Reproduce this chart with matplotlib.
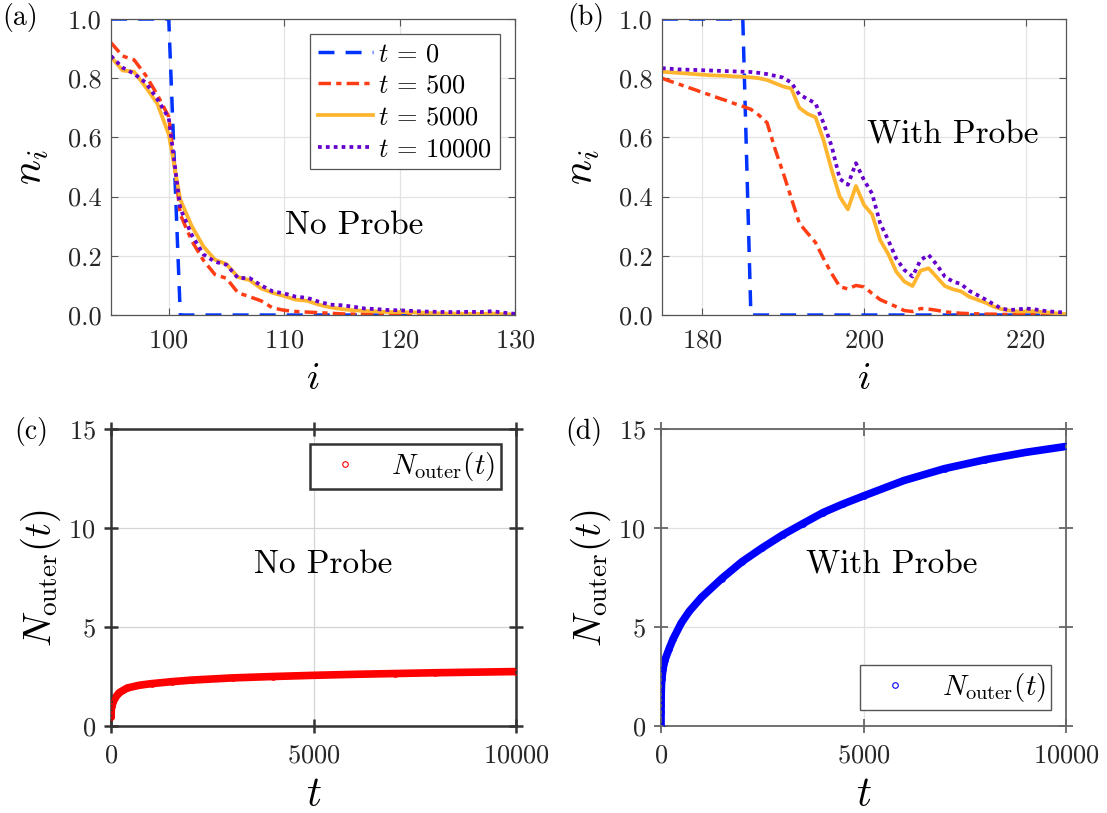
import numpy as np
import matplotlib
matplotlib.use('Agg')
import matplotlib.pyplot as plt
from matplotlib.ticker import FormatStrFormatter

plt.rcParams['font.family'] = 'serif'
plt.rcParams['font.serif'] = ['cmr10']
plt.rcParams['mathtext.fontset'] = 'cm'
plt.rcParams['axes.unicode_minus'] = False
plt.rcParams['axes.formatter.use_mathtext'] = True

# ---- occupation profiles, no probe (sites 95..130)
i_a = np.arange(95, 131)
n0_a = [1, 1, 1, 1, 1, 1, 0, 0, 0, 0, 0, 0, 0, 0, 0, 0, 0, 0,
        0, 0, 0, 0, 0, 0, 0, 0, 0, 0, 0, 0, 0, 0, 0, 0, 0, 0]
n500_a = [0.92, 0.875, 0.862, 0.81, 0.745, 0.67, 0.34, 0.25, 0.185, 0.137,
          0.124, 0.075, 0.062, 0.048, 0.024, 0.016, 0.012, 0.01, 0.008, 0.006,
          0.004, 0.003, 0.003, 0.002, 0.002, 0.002, 0.001, 0.001, 0.001, 0.001,
          0.001, 0.0, 0.0, 0.0, 0.0, 0.0]
n5000_a = [0.872, 0.826, 0.822, 0.77, 0.715, 0.61, 0.39, 0.30, 0.232, 0.187,
           0.172, 0.128, 0.118, 0.09, 0.075, 0.064, 0.052, 0.048, 0.035, 0.026,
           0.02, 0.016, 0.014, 0.012, 0.01, 0.01, 0.009, 0.008, 0.006, 0.005,
           0.005, 0.004, 0.004, 0.005, 0.003, 0.002]
n10000_a = [0.875, 0.836, 0.815, 0.785, 0.73, 0.665, 0.36, 0.27, 0.205, 0.18,
            0.17, 0.125, 0.125, 0.1, 0.08, 0.073, 0.062, 0.058, 0.045, 0.035,
            0.033, 0.028, 0.022, 0.02, 0.017, 0.016, 0.014, 0.012, 0.011, 0.01,
            0.01, 0.011, 0.01, 0.013, 0.008, 0.004]

# ---- occupation profiles, with probe (sites 175..225)
i_b = np.arange(175, 226)
n0_b = [1, 1, 1, 1, 1, 1, 1, 1, 1, 1, 1,
        0, 0, 0, 0, 0, 0, 0, 0, 0, 0, 0, 0, 0, 0, 0, 0, 0, 0, 0, 0,
        0, 0, 0, 0, 0, 0, 0, 0, 0, 0, 0, 0, 0, 0, 0, 0, 0, 0, 0, 0]
n500_b = [0.80, 0.79, 0.781, 0.771, 0.762, 0.752, 0.743, 0.733, 0.724, 0.714,
          0.705, 0.695, 0.675, 0.65, 0.56, 0.48, 0.395, 0.31, 0.277, 0.245,
          0.19, 0.14, 0.096, 0.088, 0.10, 0.095, 0.073, 0.052, 0.04, 0.028,
          0.015, 0.012, 0.022, 0.02, 0.016, 0.011, 0.008, 0.006, 0.005, 0.004,
          0.003, 0.003, 0.002, 0.002, 0.001, 0.001, 0.001, 0.001, 0.0, 0.0, 0.0]
n5000_b = [0.822, 0.82, 0.818, 0.816, 0.814, 0.812, 0.81, 0.809, 0.808, 0.806,
           0.805, 0.803, 0.80, 0.794, 0.783, 0.772, 0.765, 0.70, 0.68, 0.668,
           0.59, 0.49, 0.40, 0.357, 0.436, 0.372, 0.34, 0.253, 0.206, 0.146,
           0.113, 0.098, 0.15, 0.158, 0.128, 0.098, 0.087, 0.08, 0.062, 0.052,
           0.042, 0.029, 0.02, 0.015, 0.012, 0.012, 0.013, 0.01, 0.008, 0.005, 0.003]
n10000_b = [0.834, 0.832, 0.83, 0.829, 0.828, 0.827, 0.826, 0.825, 0.824, 0.823,
            0.822, 0.821, 0.818, 0.814, 0.808, 0.802, 0.785, 0.745, 0.73, 0.715,
            0.648, 0.57, 0.46, 0.44, 0.513, 0.456, 0.41, 0.31, 0.253, 0.19,
            0.152, 0.13, 0.186, 0.203, 0.17, 0.13, 0.113, 0.105, 0.082, 0.068,
            0.053, 0.037, 0.022, 0.017, 0.019, 0.022, 0.02, 0.015, 0.012, 0.01, 0.008]

# ---- particles in the outer region vs time
t_c = [0, 1, 2, 5, 10, 20, 50, 100, 200, 400, 700, 1000, 1500, 2000, 3000,
       4000, 5000, 6000, 7000, 8000, 9000, 10000]
N_c = [0.45, 0.55, 0.62, 0.75, 0.87, 1.0, 1.2, 1.42, 1.68, 1.92, 2.06, 2.14,
       2.24, 2.32, 2.43, 2.5, 2.56, 2.61, 2.65, 2.69, 2.72, 2.75]
t_d = [0, 1, 2, 3, 5, 10, 20, 50, 100, 200, 300, 500, 700, 1000, 1500, 2000,
       2500, 3000, 3500, 4000, 4500, 5000, 6000, 7000, 8000, 9000, 10000]
N_d = [0, 0.72, 1.05, 1.3, 1.6, 2.0, 2.35, 2.9, 3.35, 3.9, 4.4, 5.2, 5.8, 6.5,
       7.45, 8.3, 9.0, 9.65, 10.22, 10.78, 11.22, 11.62, 12.4, 13.0, 13.45,
       13.82, 14.12]

c_blue = '#0033ff'
c_red = '#ff3d14'
c_orange = '#ffb52e'
c_purple = '#6600cc'
tick_col = '#262626'


def style_top(ax):
    ax.tick_params(direction='in', length=5, width=0.8, top=True, right=True,
                   labelsize=19, colors='#555555', labelcolor=tick_col)
    ax.tick_params(axis='x', pad=10)
    ax.tick_params(axis='y', pad=7)
    for s in ax.spines.values():
        s.set_color('#555555')
        s.set_linewidth(0.9)
    ax.grid(True, color='#e3e3e3', lw=0.9)
    ax.set_axisbelow(True)
    ax.yaxis.set_major_formatter(FormatStrFormatter('%.1f'))
    ax.set_ylim(0, 1)
    ax.set_yticks([0, 0.2, 0.4, 0.6, 0.8, 1.0])


def style_bottom(ax, frame_col, frame_lw, grid_col):
    ax.tick_params(direction='inout', length=10, width=frame_lw, top=True, right=True,
                   labelsize=19, colors=frame_col, labelcolor=tick_col)
    ax.tick_params(axis='x', pad=8)
    ax.tick_params(axis='y', pad=6)
    for s in ax.spines.values():
        s.set_color(frame_col)
        s.set_linewidth(frame_lw)
    ax.grid(True, color=grid_col, lw=0.9)
    ax.set_axisbelow(True)
    ax.set_xlim(0, 10000)
    ax.set_ylim(0, 15)
    ax.set_xticks([0, 5000, 10000])
    ax.set_yticks([0, 5, 10, 15])


fig = plt.figure(figsize=(11.07, 8.13), dpi=100)
ax_a = fig.add_axes([0.1003, 0.6125, 0.365, 0.3641])
ax_b = fig.add_axes([0.598, 0.6125, 0.365, 0.3641])
ax_c = fig.add_axes([0.1003, 0.107, 0.3659, 0.3653])
ax_d = fig.add_axes([0.5971, 0.107, 0.3659, 0.3653])

lw = 2.5
for ax, ii, p0, p1, p2, p3 in [(ax_a, i_a, n0_a, n500_a, n5000_a, n10000_a),
                               (ax_b, i_b, n0_b, n500_b, n5000_b, n10000_b)]:
    style_top(ax)
    ax.plot(ii, p0, color=c_blue, lw=lw, dashes=(4.6, 3.2), label=r'$t\,=\,0$')
    ax.plot(ii, p1, color=c_red, lw=lw, dashes=(3.6, 1.5, 1.5, 1.5), label=r'$t\,=\,500$')
    ax.plot(ii, p2, color=c_orange, lw=lw + 0.2, label=r'$t\,=\,5000$')
    ax.plot(ii, p3, color=c_purple, lw=lw + 0.2, dashes=(1, 1.1), label=r'$t\,=\,10000$')
    ax.set_xlabel(r'$i$', fontsize=28, labelpad=6)
    ax.set_ylabel(r'$n_i$', fontsize=30, labelpad=12)

ax_a.set_xlim(95, 130)
ax_a.set_xticks([100, 110, 120, 130])
ax_b.set_xlim(175, 225)
ax_b.set_xticks([180, 200, 220])

leg = ax_a.legend(loc='upper right', bbox_to_anchor=(0.963, 0.948), borderaxespad=0,
                  fontsize=19, handlelength=2.1, handletextpad=0.2, labelspacing=0.3,
                  borderpad=0.3, fancybox=False, framealpha=1, edgecolor='#555555')
leg.get_frame().set_linewidth(0.9)

ax_a.text(0.603, 0.304, 'No Probe', transform=ax_a.transAxes, fontsize=24,
          ha='center', va='center')
ax_b.text(0.72, 0.608, 'With Probe', transform=ax_b.transAxes, fontsize=24,
          ha='center', va='center')

# outer-region counts: thick band of samples with open circles
style_bottom(ax_c, '#333333', 1.8, '#d4d4d4')
ax_c.plot(t_c, N_c, color='#ff0000', lw=5.5, solid_capstyle='round', zorder=2)
ax_c.plot(t_c, N_c, 'o', mfc='none', mec='#ff0000', ms=4, mew=0.8,
          label=r'$N_{\rm outer}(t)$', zorder=3)
style_bottom(ax_d, '#666666', 1.3, '#e0e0e0')
ax_d.plot(t_d, N_d, color='#0000ff', lw=5.5, solid_capstyle='round', zorder=2)
ax_d.plot(t_d, N_d, 'o', mfc='none', mec='#0000ff', ms=4, mew=0.8,
          label=r'$N_{\rm outer}(t)$', zorder=3)

for ax in (ax_c, ax_d):
    ax.set_xlabel(r'$t$', fontsize=30, labelpad=6)
    ax.set_ylabel(r'$N_{\rm outer}(t)$', fontsize=28, labelpad=4)

leg_c = ax_c.legend(loc='upper right', bbox_to_anchor=(0.963, 0.949), borderaxespad=0,
                    fontsize=21, handlelength=2.0, handletextpad=0.6, borderpad=0.2,
                    fancybox=False, framealpha=1, edgecolor='#333333')
leg_c.get_frame().set_linewidth(1.8)
leg_d = ax_d.legend(loc='lower right', bbox_to_anchor=(0.964, 0.054), borderaxespad=0,
                    fontsize=21, handlelength=2.0, handletextpad=0.6, borderpad=0.2,
                    fancybox=False, framealpha=1, edgecolor='#555555')
leg_d.get_frame().set_linewidth(1.0)

ax_c.text(0.524, 0.543, 'No Probe', transform=ax_c.transAxes, fontsize=24,
          ha='center', va='center')
ax_d.text(0.569, 0.543, 'With Probe', transform=ax_d.transAxes, fontsize=24,
          ha='center', va='center')

# panel tags
fig.text(0.002, 0.996, '(a)', fontsize=20, ha='left', va='top')
fig.text(0.512, 0.996, '(b)', fontsize=20, ha='left', va='top')
fig.text(0.013, 0.487, '(c)', fontsize=20, ha='left', va='top')
fig.text(0.511, 0.487, '(d)', fontsize=20, ha='left', va='top')

fig.savefig('out.png', dpi=100)
